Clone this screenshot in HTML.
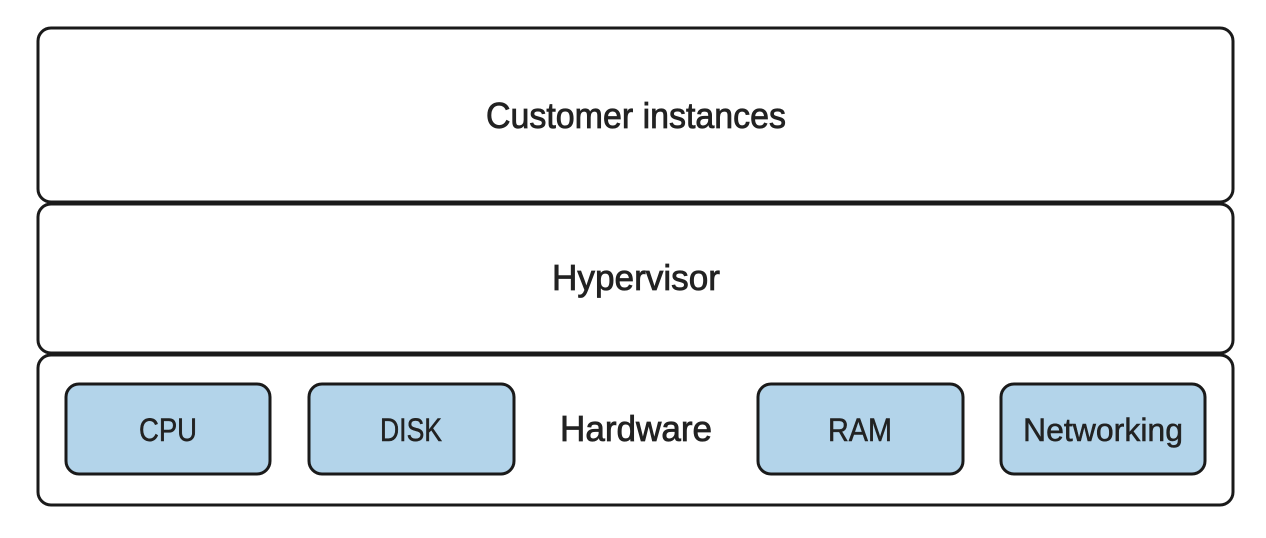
<!DOCTYPE html>
<html><head><style>html,body{margin:0;padding:0;background:#fff;}</style></head>
<body>
<svg width="1266" height="533" viewBox="0 0 1266 533" xmlns="http://www.w3.org/2000/svg">
<g fill="#fff" stroke="#1a1a1a" stroke-width="3">
<rect x="38" y="28" width="1195" height="174" rx="13"/>
<rect x="38" y="204" width="1195" height="149" rx="13"/>
<rect x="38" y="355" width="1195" height="150" rx="13"/>
</g>
<g fill="#b3d4ea" stroke="#1a1a1a" stroke-width="3">
<rect x="66" y="384" width="204" height="90" rx="13"/>
<rect x="309" y="384" width="205" height="90" rx="13"/>
<rect x="758" y="384" width="205" height="90" rx="13"/>
<rect x="1001" y="384" width="204" height="90" rx="13"/>
</g>
<g font-family="'Liberation Sans Narrow','Liberation Sans',sans-serif" text-anchor="middle" fill="#222" stroke="#222" stroke-width="0.8">
<text x="636" y="128" font-size="36" textLength="300" lengthAdjust="spacingAndGlyphs">Customer instances</text>
<text x="636" y="290" font-size="36" textLength="168" lengthAdjust="spacingAndGlyphs">Hypervisor</text>
<text x="636" y="441" font-size="36" textLength="152" lengthAdjust="spacingAndGlyphs">Hardware</text>
<g font-size="32" stroke-width="0.5">
<text x="168" y="441" textLength="58" lengthAdjust="spacingAndGlyphs">CPU</text>
<text x="411" y="441" textLength="62" lengthAdjust="spacingAndGlyphs">DISK</text>
<text x="860" y="441" textLength="64" lengthAdjust="spacingAndGlyphs">RAM</text>
<text x="1103" y="441" textLength="160" lengthAdjust="spacingAndGlyphs">Networking</text>
</g>
</g>
</svg>
</body></html>
